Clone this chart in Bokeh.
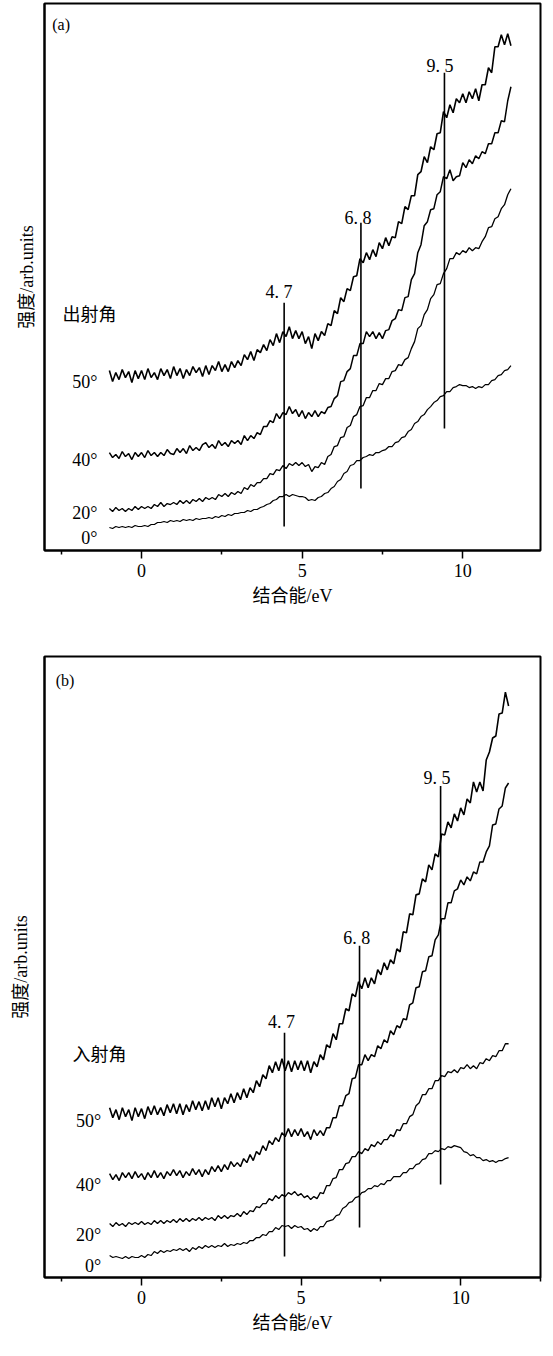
import numpy as np
from bokeh.plotting import figure
from bokeh.layouts import column
from bokeh.models import Range1d, FixedTicker
from bokeh.core.properties import value
from bokeh.embed import file_html
from bokeh.resources import INLINE

FONT = "Liberation Serif, Noto Sans CJK SC"

# binding energy grid (eV), one sample every 0.1 eV from -1.0 to 11.5
energy = np.linspace(-1.0, 11.5, 126)
angle_labels = ["0°", "20°", "40°", "50°"]
peak_labels = ["4. 7", "6. 8", "9. 5"]

# ---------------- panel (a): emission angle (出射角) ----------------
a_0 = [23, 22, 24, 23, 24, 23, 24, 23, 25, 24,
       24, 25, 24, 26, 26, 28, 28, 29, 28, 30,
       29, 30, 29, 31, 30, 31, 30, 32, 31, 32,
       32, 33, 32, 34, 33, 35, 34, 36, 35, 37,
       37, 38, 38, 40, 39, 41, 41, 43, 44, 46,
       47, 50, 51, 54, 54, 56, 54, 56, 55, 54,
       54, 53, 50, 51, 50, 53, 54, 57, 58, 62,
       64, 69, 71, 77, 79, 85, 86, 90, 90, 93,
       94, 96, 95, 98, 98, 100, 101, 104, 104, 108,
       109, 113, 114, 119, 121, 127, 129, 134, 136, 141,
       144, 148, 150, 154, 155, 159, 159, 163, 164, 166,
       165, 165, 163, 164, 162, 164, 163, 166, 166, 170,
       171, 175, 176, 180, 181, 185]
a_20 = [42, 39, 43, 40, 42, 39, 42, 40, 44, 41,
        44, 42, 44, 42, 46, 44, 48, 44, 47, 46,
        48, 46, 50, 47, 50, 47, 51, 49, 52, 49,
        53, 51, 53, 51, 56, 54, 57, 54, 58, 56,
        59, 57, 63, 61, 66, 64, 68, 68, 72, 72,
        77, 76, 81, 80, 85, 82, 87, 85, 88, 85,
        88, 84, 86, 79, 84, 83, 88, 86, 94, 96,
        104, 105, 113, 114, 123, 125, 134, 136, 144, 145,
        153, 153, 160, 160, 167, 166, 172, 172, 179, 180,
        186, 185, 191, 193, 202, 209, 222, 225, 236, 241,
        252, 256, 266, 267, 277, 282, 292, 292, 298, 296,
        300, 298, 303, 300, 303, 302, 309, 314, 323, 324,
        332, 334, 342, 346, 356, 362]
a_40 = [98, 93, 96, 92, 99, 94, 97, 91, 98, 94,
        98, 93, 100, 95, 98, 94, 98, 95, 101, 97,
        96, 102, 98, 102, 97, 105, 100, 103, 100, 106,
        108, 103, 106, 102, 110, 105, 108, 104, 110, 107,
        110, 106, 115, 110, 115, 112, 118, 116, 124, 124,
        130, 128, 137, 132, 138, 136, 144, 137, 141, 134,
        140, 132, 138, 134, 140, 134, 139, 137, 143, 144,
        152, 155, 169, 170, 179, 182, 195, 195, 207, 207,
        219, 214, 219, 212, 218, 212, 220, 221, 230, 232,
        241, 240, 253, 254, 271, 277, 298, 306, 325, 329,
        341, 342, 356, 359, 374, 372, 381, 370, 374, 375,
        388, 383, 391, 387, 395, 392, 399, 397, 407, 407,
        418, 418, 430, 429, 450, 464]
a_50 = [180, 169, 178, 171, 181, 173, 179, 168, 180, 172,
        180, 171, 182, 173, 178, 171, 182, 175, 181, 172,
        184, 175, 182, 172, 181, 175, 184, 178, 183, 174,
        185, 176, 185, 180, 189, 179, 186, 179, 189, 183,
        190, 185, 196, 191, 199, 190, 201, 198, 206, 200,
        211, 205, 217, 208, 219, 214, 224, 212, 220, 212,
        219, 207, 214, 202, 217, 210, 219, 215, 227, 225,
        240, 237, 253, 249, 262, 260, 274, 275, 292, 288,
        298, 291, 301, 294, 308, 302, 313, 305, 314, 313,
        329, 327, 344, 341, 355, 355, 376, 379, 394, 388,
        404, 401, 417, 418, 439, 433, 446, 438, 452, 448,
        457, 448, 459, 452, 462, 450, 466, 466, 483, 478,
        504, 504, 516, 506, 517, 505]
a_peak_x = [4.44, 6.83, 9.43]
a_peak_lo = [24, 62, 122]
a_peak_hi = [248, 328, 478]

# ---------------- panel (b): incidence angle (入射角) ----------------
b_0 = [22, 20, 21, 20, 19, 21, 19, 21, 20, 20,
       22, 20, 23, 22, 26, 24, 27, 25, 27, 26,
       28, 27, 29, 27, 29, 26, 30, 28, 31, 29,
       32, 30, 32, 30, 32, 31, 34, 31, 33, 32,
       34, 33, 35, 34, 37, 37, 40, 40, 43, 42,
       46, 46, 50, 48, 52, 51, 52, 49, 52, 50,
       51, 48, 49, 46, 49, 47, 51, 51, 56, 57,
       58, 62, 63, 69, 71, 75, 76, 80, 81, 85,
       86, 89, 89, 92, 91, 94, 93, 97, 97, 101,
       101, 101, 105, 105, 109, 109, 113, 114, 118, 119,
       124, 124, 127, 126, 129, 128, 131, 130, 132, 131,
       130, 126, 125, 122, 123, 120, 120, 117, 118, 116,
       117, 115, 117, 117, 119, 120]
b_20 = [54, 51, 55, 52, 54, 51, 55, 53, 55, 53,
        56, 53, 55, 53, 57, 54, 57, 54, 57, 55,
        58, 55, 59, 56, 59, 56, 59, 57, 60, 57,
        60, 58, 60, 57, 62, 59, 62, 59, 62, 61,
        64, 61, 66, 63, 67, 66, 71, 70, 74, 74,
        79, 77, 82, 79, 83, 81, 85, 83, 86, 82,
        84, 80, 82, 78, 81, 79, 85, 84, 92, 92,
        99, 100, 108, 108, 114, 115, 121, 121, 126, 124,
        129, 127, 133, 131, 136, 133, 138, 138, 143, 141,
        148, 147, 154, 154, 161, 163, 172, 175, 183, 183,
        189, 189, 197, 197, 202, 201, 206, 205, 208, 205,
        210, 209, 213, 209, 212, 209, 215, 214, 219, 217,
        222, 221, 227, 227, 234, 234]
b_40 = [104, 98, 103, 97, 105, 100, 105, 99, 106, 100,
        104, 98, 105, 100, 107, 100, 105, 99, 106, 102,
        108, 102, 107, 100, 106, 102, 109, 103, 108, 101,
        108, 103, 111, 106, 112, 106, 113, 108, 116, 111,
        115, 111, 119, 115, 123, 117, 126, 123, 132, 127,
        137, 133, 140, 136, 145, 141, 149, 141, 148, 142,
        149, 141, 146, 138, 148, 142, 147, 142, 150, 150,
        160, 160, 172, 172, 182, 184, 199, 200, 213, 213,
        223, 217, 223, 221, 232, 229, 238, 235, 247, 243,
        252, 250, 259, 258, 273, 275, 290, 291, 306, 307,
        321, 322, 338, 343, 359, 359, 375, 375, 387, 389,
        398, 393, 401, 397, 406, 404, 416, 416, 426, 432,
        453, 454, 469, 472, 490, 495]
b_50 = [170, 160, 168, 158, 170, 161, 168, 157, 170, 161,
        169, 159, 171, 163, 172, 163, 170, 162, 173, 165,
        174, 164, 174, 163, 173, 166, 177, 168, 176, 167,
        177, 168, 180, 171, 180, 169, 180, 174, 184, 175,
        185, 178, 189, 180, 190, 185, 197, 191, 203, 199,
        212, 205, 216, 207, 219, 207, 217, 206, 217, 208,
        217, 207, 217, 205, 216, 211, 223, 218, 233, 230,
        244, 238, 254, 254, 269, 267, 284, 281, 296, 289,
        300, 290, 300, 294, 308, 303, 315, 308, 318, 314,
        329, 326, 346, 345, 364, 363, 383, 384, 399, 396,
        413, 408, 424, 421, 444, 443, 456, 450, 464, 457,
        470, 463, 479, 475, 496, 486, 496, 487, 518, 526,
        540, 542, 564, 565, 586, 572]
b_peak_x = [4.48, 6.83, 9.37]
b_peak_lo = [21, 50, 93]
b_peak_hi = [245, 332, 492]

for arr in (a_0, a_20, a_40, a_50, b_0, b_20, b_40, b_50):
    assert len(arr) == len(energy)

curve_widths = [1.2, 1.3, 1.5, 1.6]


def make_panel(curves, peak_x, peak_lo, peak_hi, layout, texts):
    p = figure(width=layout["w"], height=layout["h"],
               x_range=Range1d(*layout["xr"]), y_range=Range1d(*layout["yr"]),
               output_backend="svg", toolbar_location=None,
               min_border_left=layout["bl"], min_border_right=layout["br"],
               min_border_top=layout["bt"], min_border_bottom=layout["bb"])
    p.grid.visible = False
    p.background_fill_color = "white"
    p.border_fill_color = "white"
    p.outline_line_color = "black"
    p.outline_line_width = 2

    xa = p.xaxis[0]
    xa.ticker = FixedTicker(ticks=[0, 5, 10], minor_ticks=[-2.5, 2.5, 7.5, 12.5])
    xa.axis_line_width = 2
    xa.major_tick_in = 0
    xa.major_tick_out = 8
    xa.minor_tick_in = 0
    xa.minor_tick_out = 4
    xa.major_tick_line_width = 1.5
    xa.minor_tick_line_width = 1.5
    xa.major_label_text_font = FONT
    xa.major_label_text_font_size = "18px"
    xa.major_label_text_color = "black"
    xa.major_label_standoff = 5
    xa.axis_label = "结合能/eV"
    xa.axis_label_text_font = FONT
    xa.axis_label_text_font_size = "18px"
    xa.axis_label_text_font_style = "normal"
    xa.axis_label_text_color = "black"
    xa.axis_label_standoff = 6

    ya = p.yaxis[0]
    ya.ticker = FixedTicker(ticks=[])
    ya.axis_line_width = 2
    ya.major_tick_out = 0
    ya.major_tick_in = 0
    ya.minor_tick_out = 0
    ya.minor_tick_in = 0
    ya.axis_label = "强度/arb.units"
    ya.axis_label_text_font = FONT
    ya.axis_label_text_font_size = "18px"
    ya.axis_label_text_font_style = "normal"
    ya.axis_label_text_color = "black"
    ya.axis_label_standoff = layout["ystand"]

    for c, w in zip(curves, curve_widths):
        p.line(energy, c, line_color="black", line_width=w)

    p.segment(x0=peak_x, y0=peak_lo, x1=peak_x, y1=peak_hi,
              line_color="black", line_width=1.6)

    p.text(x=texts["peak_x"], y=texts["peak_y"], text=peak_labels,
           text_font=value(FONT), text_font_size="18px", text_color="black",
           text_align="center", text_baseline="alphabetic")
    p.text(x=[texts["angle_x"]] * 4, y=texts["angle_y"], text=angle_labels,
           text_font=value(FONT), text_font_size="18px", text_color="black",
           text_align="right", text_baseline="alphabetic")
    p.text(x=[texts["head_x"]], y=[texts["head_y"]], text=[texts["head"]],
           text_font=value(FONT), text_font_size="18px", text_color="black",
           text_align="left", text_baseline="middle")
    p.text(x=[texts["tag_x"]], y=[texts["tag_y"]], text=[texts["tag"]],
           text_font=value(FONT), text_font_size="16px", text_color="black",
           text_align="left", text_baseline="alphabetic")
    return p


pa = make_panel(
    [a_0, a_20, a_40, a_50], a_peak_x, a_peak_lo, a_peak_hi,
    dict(w=544, h=640, xr=(-3.02, 12.42), yr=(0, 547.3),
         bl=34, br=1, bt=3, bb=90, ystand=8),
    dict(peak_x=[4.28, 6.74, 9.29], peak_y=[259, 333, 485],
         angle_x=-1.37, angle_y=[13, 38, 91, 169],
         head="出射角", head_x=-2.46, head_y=236,
         tag="(a)", tag_x=-2.78, tag_y=526))

pb = make_panel(
    [b_0, b_20, b_40, b_50], b_peak_x, b_peak_lo, b_peak_hi,
    dict(w=544, h=700, xr=(-3.04, 12.5), yr=(0, 621.6),
         bl=44, br=4, bt=16, bb=63, ystand=14),
    dict(peak_x=[4.385, 6.74, 9.26], peak_y=[256, 340, 500],
         angle_x=-1.26, angle_y=[12, 43, 93, 157],
         head="入射角", head_x=-2.16, head_y=223,
         tag="(b)", tag_x=-2.69, tag_y=598))

layout = column(pa, pb)
open("out.html", "w").write(file_html(layout, INLINE))
